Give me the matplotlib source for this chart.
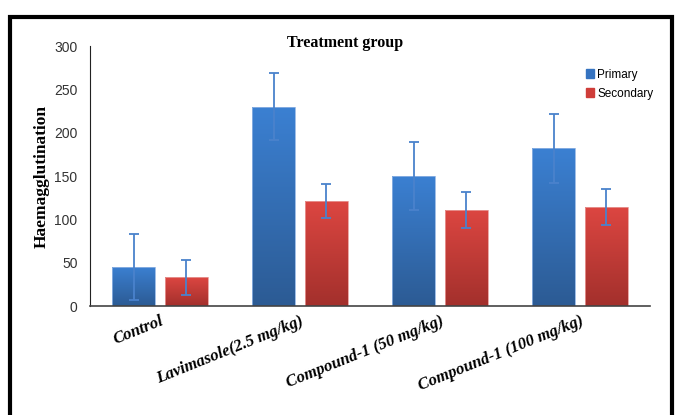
import numpy as np
import matplotlib
matplotlib.use('Agg')
from matplotlib import pyplot as plt
from matplotlib.patches import Rectangle
from matplotlib.colors import LinearSegmentedColormap

# data
groups = ['Control', 'Lavimasole(2.5 mg/kg)', 'Compound-1 (50 mg/kg)', 'Compound-1 (100 mg/kg)']
primary = [45, 230, 150, 182]
primary_err = [38, 39, 39, 40]
secondary = [33, 121, 111, 114]
secondary_err = [20, 20, 21, 21]

plt.rcParams['font.family'] = ['Liberation Sans Narrow', 'Liberation Sans', 'DejaVu Sans']

fig = plt.figure(figsize=(6.75, 4.15), dpi=100)
ax = fig.add_axes([90/675, 1-306/415, 560/675, 260/415])

x = np.arange(len(groups))
w = 0.307
off = 0.186

blue_cm = LinearSegmentedColormap.from_list('b', ['#2c5b94', '#3b80d2'])
red_cm = LinearSegmentedColormap.from_list('r', ['#a3302c', '#dc4641'])

grad = np.linspace(0, 1, 100).reshape(-1, 1)
for vals, pos, cm, edge in [(primary, x - off, blue_cm, '#8fb3e3'),
                            (secondary, x + off, red_cm, '#e89a98')]:
    bars = ax.bar(pos, vals, w, color='none', edgecolor=edge, linewidth=0.6, zorder=2)
    for b in bars:
        im = ax.imshow(grad, cmap=cm, origin='lower', aspect='auto',
                       extent=[b.get_x(), b.get_x() + b.get_width(), 0, b.get_height()],
                       zorder=1)
        im.set_clip_path(b)

ax.errorbar(x - off, primary, yerr=primary_err, fmt='none', ecolor='#4a82cc',
            elinewidth=1.3, capsize=3.5, capthick=1.3, zorder=3)
ax.errorbar(x + off, secondary, yerr=secondary_err, fmt='none', ecolor='#4a82cc',
            elinewidth=1.3, capsize=3.5, capthick=1.3, zorder=3)

ax.set_xlim(-0.5, 3.5)
ax.set_ylim(0, 300)
ax.set_yticks([0, 50, 100, 150, 200, 250, 300])
ax.tick_params(axis='y', length=0, labelsize=10, pad=9, labelcolor='#333333')
ax.tick_params(axis='x', length=0, pad=5)
ax.set_xticks(x)
ax.set_xticklabels(groups, rotation=22, ha='right', rotation_mode='anchor',
                   fontsize=12, fontweight='bold', fontstyle='italic',
                   family=['Liberation Serif', 'DejaVu Serif'])
for s in ['top', 'right']:
    ax.spines[s].set_visible(False)
ax.spines['left'].set_color('#222222')
ax.spines['bottom'].set_color('#444444')
ax.spines['bottom'].set_linewidth(1.2)

ax.set_ylabel('Haemagglutination', fontsize=12.5, fontweight='bold',
              family=['Liberation Serif', 'DejaVu Serif'])
ax.yaxis.set_label_coords(-0.072, 0.5)

fig.text(345/675, 1-43/415, 'Treatment group', ha='center', va='center',
         fontsize=11.5, fontweight='bold', family=['Liberation Serif', 'DejaVu Serif'])

h1 = Rectangle((0, 0), 1, 1, color='#3573c0')
h2 = Rectangle((0, 0), 1, 1, color='#cf3d39')
fig.legend([h1, h2], ['Primary', 'Secondary'], loc='upper left',
           bbox_to_anchor=(575/675, 1-58/415), frameon=False, fontsize=8.5,
           handlelength=0.7, handleheight=0.7, handletextpad=0.3, labelspacing=0.6)

fig.patches.append(Rectangle((10/675, -0.05), 662/675, 1.05 - 17/415, transform=fig.transFigure,
                             fill=False, edgecolor='black', linewidth=3, figure=fig))

fig.savefig('out.png', dpi=100)
